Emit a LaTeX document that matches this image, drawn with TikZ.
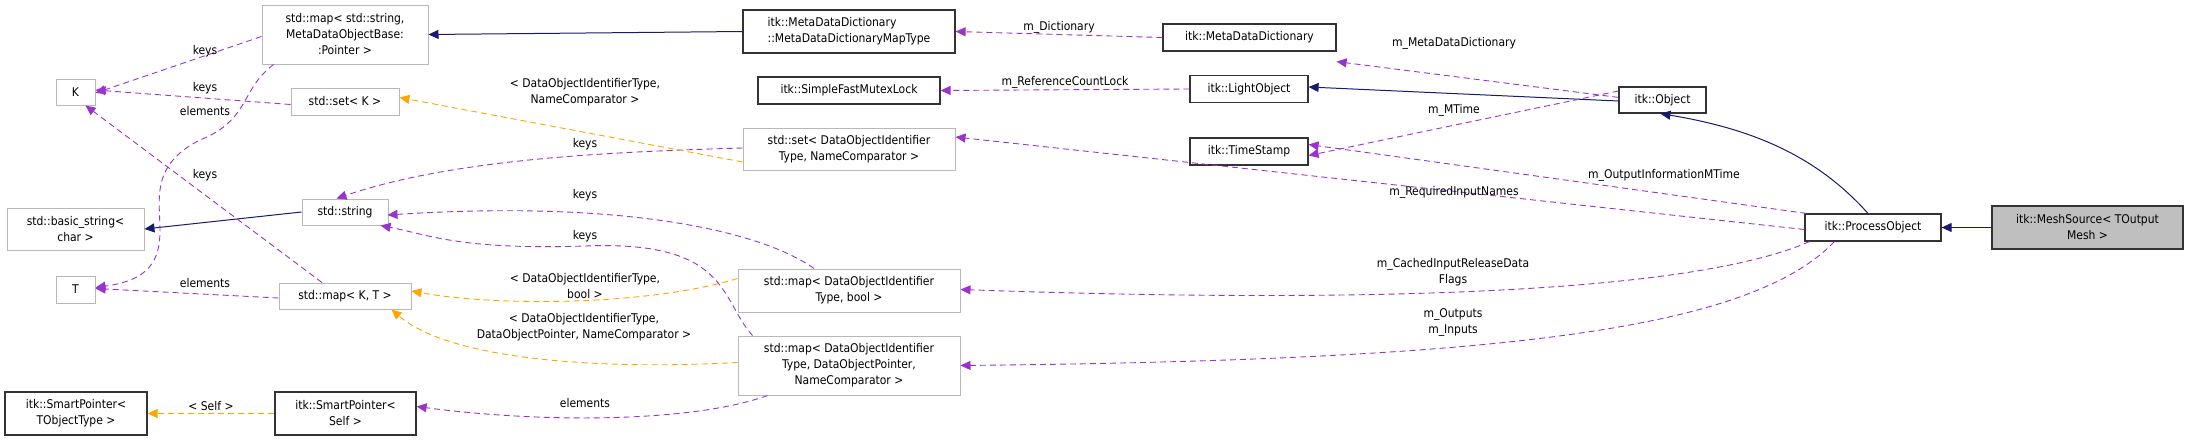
\documentclass[tikz,border=0pt]{standalone}
\usepackage{fontspec}
\setmainfont{DejaVu Sans Condensed}
\usetikzlibrary{arrows.meta}
\definecolor{pur}{HTML}{9A32CD}
\definecolor{org}{HTML}{FFA500}
\definecolor{nav}{HTML}{191970}
\begin{document}
\begin{tikzpicture}[x=1pt,y=-1pt,
  every node/.style={font=\fontsize{12}{16}\selectfont, align=center, inner sep=0pt},
  gbox/.style={draw=black!28, line width=1pt, fill=white},
  bbox/.style={draw=black!80, line width=1.2pt, fill=white},
  tip/.style={-{Triangle[length=10pt,width=9pt]}},
  use/.style={tip, pur, dash pattern=on 6pt off 4pt, line width=0.9pt},
  tpl/.style={tip, org, dash pattern=on 6pt off 4pt, line width=0.9pt},
  inh/.style={tip, nav, line width=1pt},
  lab/.style={fill=none, text=black}]
\useasboundingbox (0,0) rectangle (2189,440);
% nodes
\node[gbox,minimum width=166,minimum height=59] (mapSS) at (345,34.5) {std::map< std::string,\\MetaDataObjectBase:\\:Pointer >};
\node[gbox,minimum width=39,minimum height=26] (K) at (75.5,92) {K};
\node[gbox,minimum width=108,minimum height=27] (setK) at (345,101.5) {std::set< K >};
\node[gbox,minimum width=137,minimum height=42] (basic) at (75.5,229) {std::basic\_string<\\char >};
\node[gbox,minimum width=86,minimum height=26] (str) at (345,212) {std::string};
\node[gbox,minimum width=39,minimum height=27] (T) at (75.5,289.5) {T};
\node[gbox,minimum width=132,minimum height=26] (mapKT) at (345,296) {std::map< K, T >};
\node[bbox,minimum width=142,minimum height=43] (SPT) at (76,413.5) {itk::SmartPointer<\\TObjectType >};
\node[bbox,minimum width=141,minimum height=43] (SPS) at (345.5,413.5) {itk::SmartPointer<\\Self >};
\node[bbox,minimum width=212,minimum height=43,align=left] (MT) at (849,31.5) {itk::MetaDataDictionary\\::MetaDataDictionaryMapType};
\node[bbox,minimum width=173,minimum height=27] (MDD) at (1249.5,37.5) {itk::MetaDataDictionary};
\node[bbox,minimum width=182,minimum height=27] (SFML) at (849,90.5) {itk::SimpleFastMutexLock};
\node[bbox,minimum width=118,minimum height=27] (LO) at (1249,89) {itk::LightObject};
\node[gbox,minimum width=212,minimum height=42] (setD) at (849,149) {std::set< DataObjectIdentifier\\Type, NameComparator >};
\node[bbox,minimum width=118,minimum height=27] (TS) at (1249,151.5) {itk::TimeStamp};
\node[gbox,minimum width=222,minimum height=43] (mapDB) at (849,290.5) {std::map< DataObjectIdentifier\\Type, bool >};
\node[gbox,minimum width=222,minimum height=59] (mapDD) at (849,365.5) {std::map< DataObjectIdentifier\\Type, DataObjectPointer,\\NameComparator >};
\node[bbox,minimum width=87,minimum height=26] (OB) at (1662.5,100) {itk::Object};
\node[bbox,minimum width=136,minimum height=27] (PO) at (1873,227.5) {itk::ProcessObject};
\node[draw=black!80,line width=1.2pt,fill=black!25,minimum width=191,minimum height=43] (MS) at (2087.5,227.5) {itk::MeshSource< TOutput\\Mesh >};
% inheritance
\draw[inh] (MT.west) -- (mapSS.east);
\draw[inh] (str.west) -- (basic.east);
\draw[inh] ([yshift=-1pt]OB.west) -- ([yshift=2pt]LO.east);
\draw[inh] (MS.west) -- (PO.east);
\draw[inh] ([xshift=-5pt]PO.north) .. controls (1820,160) and (1760,130) .. ([xshift=42pt]OB.south west);
% usage
\draw[use] (MDD.west) -- node[above=1pt,lab]{m\_Dictionary} (MT.east);
\draw[use] ([yshift=-11pt]OB.north west) -- ([yshift=-10pt]MDD.south east);
\node[lab] at (1454,43) {m\_MetaDataDictionary};
\draw[use] (LO.west) -- node[above=1pt,lab]{m\_ReferenceCountLock} (SFML.east);
\draw[use] ([yshift=9pt]OB.west) -- ([yshift=-4pt]TS.east);
\node[lab] at (1454,110) {m\_MTime};
\draw[use] ([xshift=2pt]PO.north west) -- ([yshift=7pt]TS.east);
\node[lab] at (1664,175) {m\_OutputInformationMTime};
\draw[use] ([yshift=-2pt]PO.west) -- ([yshift=12pt]setD.east);
\node[lab] at (1454,192) {m\_RequiredInputNames};
\draw[use] ([xshift=5pt]PO.south west) .. controls (1700,290) and (1400,305) .. ([yshift=1pt]mapDB.east);
\node[lab] at (1453,272) {m\_CachedInputReleaseData\\Flags};
\draw[use] ([xshift=30pt]PO.south west) .. controls (1750,330) and (1500,360) .. (mapDD.east);
\node[lab] at (1453,322) {m\_Outputs\\m\_Inputs};
\draw[use] ([yshift=1pt]setD.west) .. controls (600,152) and (450,160) .. ([xshift=35pt]str.north west);
\node[lab] at (585,144) {keys};
\draw[use] ([xshift=-35pt]mapDB.north) .. controls (760,230) and (620,200) .. ([xshift=-1pt,yshift=-3pt]str.east);
\node[lab] at (585,195) {keys};
\draw[use] ([xshift=15pt]mapDD.north west) .. controls (720,300) and (730,240) .. (585,246) .. controls (460,250) and (430,235) .. ([xshift=-8pt]str.south east);
\node[lab] at (585,236) {keys};
\draw[use] ([xshift=30pt]mapDD.south west) .. controls (700,420) and (560,425) .. ([yshift=7pt]SPS.east);
\node[lab] at (585,403) {elements};
\draw[use] ([yshift=-2pt]mapSS.west) -- ([yshift=-1pt]K.east);
\node[lab] at (205,51) {keys};
\draw[use] ([yshift=-3pt]setK.west) -- ([yshift=2pt]K.east);
\node[lab] at (205,88) {keys};
\draw[use] ([xshift=12pt]mapSS.south west) .. controls (240,90) and (250,120) .. (200,140) .. controls (150,165) and (160,200) .. (160,230) .. controls (160,260) and (150,280) .. ([yshift=2pt]T.east);
\node[lab] at (205,111) {elements};
\draw[use] ([xshift=-23pt]mapKT.north) -- ([xshift=-10pt]K.south east);
\node[lab] at (205,175) {keys};
\draw[use] ([yshift=-2pt]mapKT.west) -- ([yshift=1pt]T.east);
\node[lab] at (205,283) {elements};
% templates
\draw[tpl] ([yshift=-13pt]setD.west) -- ([yshift=4pt]setK.east);
\node[lab] at (585,92) {< DataObjectIdentifierType,\\NameComparator >};
\draw[tpl] ([yshift=12pt]mapDB.west) .. controls (650,305) and (500,307) .. ([yshift=5pt]mapKT.east);
\node[lab] at (585,286) {< DataObjectIdentifierType,\\bool >};
\draw[tpl] ([yshift=3pt]mapDD.west) .. controls (600,370) and (450,360) .. ([xshift=-20pt]mapKT.south east);
\node[lab] at (584,327) {< DataObjectIdentifierType,\\DataObjectPointer, NameComparator >};
\draw[tpl] (SPS.west) -- node[above=2pt,lab]{< Self >} (SPT.east);
\end{tikzpicture}
\end{document}
